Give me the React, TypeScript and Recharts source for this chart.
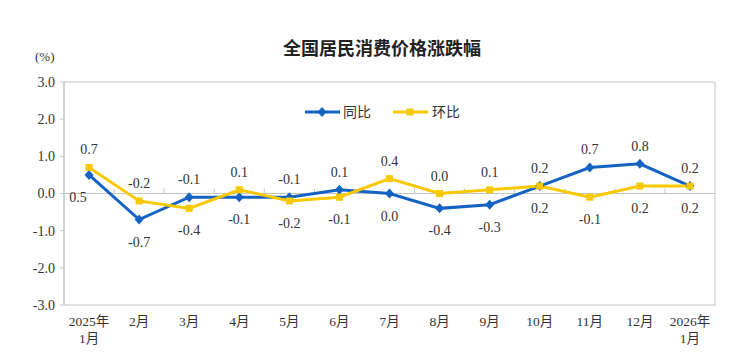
import { LineChart, Line, XAxis, YAxis, ReferenceArea, ReferenceLine, LabelList } from 'recharts';

const months = ['2025年\n1月', '2月', '3月', '4月', '5月', '6月', '7月', '8月', '9月', '10月', '11月', '12月', '2026年\n1月'];
const yoy = [0.5, -0.7, -0.1, -0.1, -0.1, 0.1, 0.0, -0.4, -0.3, 0.2, 0.7, 0.8, 0.2];
const mom = [0.7, -0.2, -0.4, 0.1, -0.2, -0.1, 0.4, 0.0, 0.1, 0.2, -0.1, 0.2, 0.2];
const yTicks = [-3, -2, -1, 0, 1, 2, 3];

const BLUE = '#1463c3';
const YELLOW = '#f8c800';
const GRID = '#c4c4c4';
const TEXT = '#333';
const FONT = "'Liberation Serif', 'Noto Sans CJK SC', serif";
const CJK = "'Noto Sans CJK SC', sans-serif";

const data = months.map((m, i) => ({ month: m, yoy: yoy[i], mom: mom[i] }));

function MonthTick({ x, y, payload }: any) {
  const lines = String(payload.value).split('\n');
  return (
    <text x={x} y={y} textAnchor="middle" fontFamily={FONT} fontSize={13.5} fill={TEXT}>
      {lines.map((l, i) => (
        <tspan key={i} x={x} dy={i === 0 ? 19 : 17}>{l}</tspan>
      ))}
    </text>
  );
}

function ZeroLine(props: any) {
  const { x1, y1, x2, y2 } = props;
  const step = (x2 - x1) / months.length;
  return (
    <g>
      <line x1={x1} y1={y1} x2={x2} y2={y2} stroke={GRID} strokeWidth={1} />
      {months.slice(1).map((_, i) => {
        const x = x1 + step * (i + 1);
        return <line key={i} x1={x} x2={x} y1={y1} y2={y1 - 5} stroke={GRID} strokeWidth={1} />;
      })}
    </g>
  );
}

function Diamond({ cx, cy }: any) {
  if (cx == null || cy == null) return null;
  return <path d={`M${cx},${cy - 5} L${cx + 4.5},${cy} L${cx},${cy + 5} L${cx - 4.5},${cy} Z`} fill={BLUE} />;
}

function Square({ cx, cy }: any) {
  if (cx == null || cy == null) return null;
  return <rect x={cx - 3.5} y={cy - 3.5} width={7} height={7} fill={YELLOW} />;
}

function PointLabel(props: any) {
  const { x, y, value, index, series } = props;
  const above = series === 'yoy' ? yoy[index] >= mom[index] : mom[index] > yoy[index];
  const dx = series === 'yoy' && index === 0 ? -11 : 0;
  return (
    <text x={x + dx} y={above ? y - 13 : y + 27} textAnchor="middle" fontFamily={FONT} fontSize={14} fill={TEXT}>
      {Number(value).toFixed(1)}
    </text>
  );
}

export default function App() {
  return (
    <div style={{ position: 'absolute', left: 0, top: 0, width: 752, height: 352, background: '#fff' }}>
      <div style={{ position: 'absolute', top: 36, left: 6, width: 752, textAlign: 'center', fontFamily: CJK, fontSize: 18, fontWeight: 'bold', color: '#222', lineHeight: '22px' }}>
        全国居民消费价格涨跌幅
      </div>
      <div style={{ position: 'absolute', top: 49, left: 35, fontFamily: FONT, fontSize: 13, color: TEXT, lineHeight: '16px' }}>(%)</div>
      <svg style={{ position: 'absolute', top: 100, left: 300 }} width={180} height={24}>
        <line x1={5} x2={40} y1={12} y2={12} stroke={BLUE} strokeWidth={3} />
        <Diamond cx={22} cy={12} />
        <text x={43} y={17} fontFamily={CJK} fontSize={14} fill={TEXT}>同比</text>
        <line x1={93} x2={128} y1={12} y2={12} stroke={YELLOW} strokeWidth={3} />
        <Square cx={110} cy={12} />
        <text x={132} y={17} fontFamily={CJK} fontSize={14} fill={TEXT}>环比</text>
      </svg>
      <div style={{ position: 'absolute', left: 0, top: 0 }}>
        <LineChart width={752} height={352} data={data} margin={{ top: 82, right: 37, bottom: 0, left: 0 }}>
          <ReferenceArea y1={-3} y2={3} fill="none" stroke={GRID} strokeWidth={1} />
          <XAxis
            dataKey="month"
            scale="band"
            height={47}
            axisLine={false}
            tickLine={false}
            tickSize={0}
            interval={0}
            tick={<MonthTick />}
          />
          <YAxis
            domain={[-3, 3]}
            ticks={yTicks}
            interval={0}
            width={64}
            tickFormatter={(v: number) => v.toFixed(1)}
            axisLine={{ stroke: GRID }}
            tickLine={{ stroke: GRID }}
            tickSize={4}
            tickMargin={5}
            tick={{ fill: TEXT, fontSize: 14, fontFamily: FONT }}
          />
          <ReferenceLine y={0} shape={<ZeroLine />} />
          <Line dataKey="yoy" stroke={BLUE} strokeWidth={3} dot={<Diamond />} activeDot={false} isAnimationActive={false}>
            <LabelList dataKey="yoy" content={<PointLabel series="yoy" />} />
          </Line>
          <Line dataKey="mom" stroke={YELLOW} strokeWidth={3} dot={<Square />} activeDot={false} isAnimationActive={false}>
            <LabelList dataKey="mom" content={<PointLabel series="mom" />} />
          </Line>
        </LineChart>
      </div>
    </div>
  );
}
